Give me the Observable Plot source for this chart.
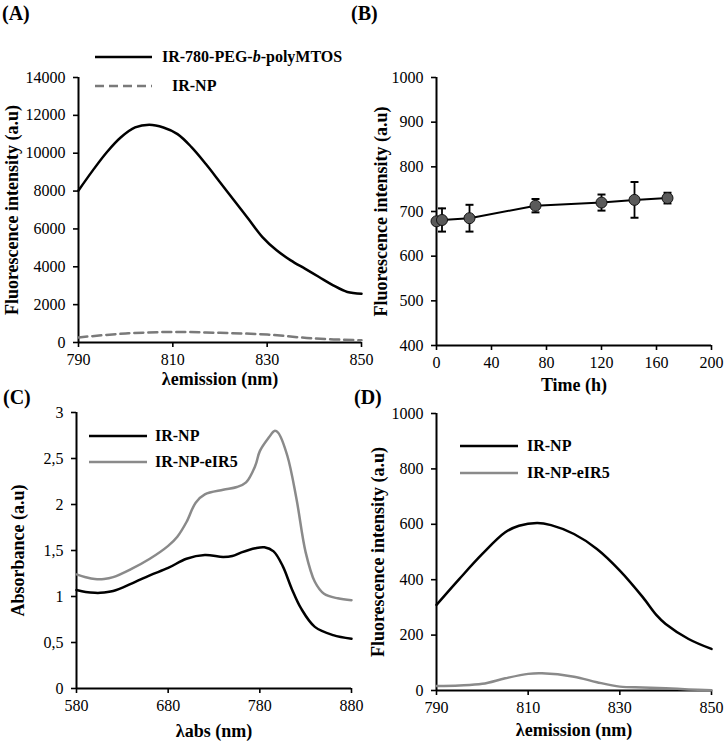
<!DOCTYPE html>
<html><head><meta charset="utf-8">
<script src="https://cdn.jsdelivr.net/npm/d3@7"></script>
<script src="https://cdn.jsdelivr.net/npm/@observablehq/plot@0.6"></script>
<style>
body{margin:0;background:#fff;}
#wrap{position:relative;width:726px;height:750px;font-family:"Liberation Serif",serif;color:#000;overflow:hidden;}
.panel{position:absolute;}
.lab{position:absolute;font-weight:bold;font-size:20px;line-height:20px;white-space:nowrap;}
.legtxt{position:absolute;font-weight:bold;font-size:16px;line-height:20px;white-space:nowrap;}
.legsw{position:absolute;overflow:visible;}
</style></head><body><div id="wrap"></div>
<script>
// ---------- Panel A: emission spectra ----------
const aWl = [790,793,796,799,802,805,808,811,814,817,820,823,826,829,832,835,838,841,844,847,850];
const aPolymer = [8030,9080,10050,10840,11360,11500,11360,11010,10310,9430,8470,7500,6540,5570,4870,4340,3900,3460,3020,2670,2580];
const aNpWl = [790,800,810,820,830,840,850];
const aNp = [270,475,560,510,420,210,120];
const aXTicks = [790,810,830,850];
const aYTicks = [0,2000,4000,6000,8000,10000,12000,14000];
const aSeries = ["IR-780-PEG-b-polyMTOS","IR-NP"];

// ---------- Panel B: stability over time ----------
const bTime = [0,4,24,72,120,144,168];
const bMean = [678,681,685,713,720,726,730];
const bErr = [6,26,30,15,18,40,12];
const bXTicks = [0,40,80,120,160,200];
const bYTicks = [400,500,600,700,800,900,1000];

// ---------- Panel C: absorbance spectra ----------
const cWl = [580,590,600,606,620,640,660,680,700,720,740,750,760,775,785,795,805,815,825,840,860,880];
const cNp = [1.07,1.05,1.04,1.04,1.06,1.14,1.23,1.31,1.41,1.45,1.43,1.44,1.48,1.525,1.535,1.49,1.33,1.08,0.87,0.67,0.58,0.54];
const cWl2 = [580,590,600,610,620,640,660,680,690,700,710,720,740,755,765,775,780,790,796,800,810,820,830,840,850,865,880];
const cNpE = [1.24,1.21,1.19,1.19,1.21,1.30,1.41,1.55,1.65,1.81,2.02,2.11,2.16,2.19,2.24,2.42,2.58,2.73,2.80,2.78,2.53,2.06,1.48,1.16,1.03,0.98,0.96];
const cXTicks = [580,680,780,880];
const cYTicks = [0,0.5,1,1.5,2,2.5,3];
const cSeries = ["IR-NP","IR-NP-eIR5"];

// ---------- Panel D: emission spectra ----------
const dWl = [790,795,800,805,808,812,815,820,825,830,835,838,840,845,850];
const dNp = [309,403,493,571,595,605,597,565,511,433,337,272,240,186,150];
const dWl2 = [790,795,800,805,810,813,820,825,830,835,840,845,850];
const dNpE = [16,18,24,44,60,62,50,30,14,11,8,4,1];
const dXTicks = [790,810,830,850];
const dYTicks = [0,200,400,600,800,1000];
const dSeries = ["IR-NP","IR-NP-eIR5"];

const FONT = "Liberation Serif";
const GRAY = "#8a8a8a";
const DASHGRAY = "#7a7a7a";
const wrap = document.getElementById("wrap");

const baseStyle = {background: "transparent", fontFamily: FONT, fontSize: "16px", color: "#000", overflow: "visible"};
const fmtInt = d3.format("d");
const fmtComma = d => String(d).replace(".", ",");

function axes(xTicks, yTicks, xDom, yDom, fmtY, fmtX) {
  return [
    Plot.axisX({ticks: xTicks, tickSize: 5, tickPadding: 6, tickFormat: fmtX || fmtInt, label: null, strokeWidth: 1.6}),
    Plot.axisY({ticks: yTicks, tickSize: 5, tickPadding: 8, tickFormat: fmtY || fmtInt, label: null, strokeWidth: 1.6}),
    Plot.ruleY([yDom[0]], {strokeWidth: 2}),
    Plot.ruleX([xDom[0]], {strokeWidth: 2})
  ];
}
function titles(xt, yt, dyX, dxY) {
  return [
    Plot.text([xt], {text: d => d, frameAnchor: "bottom", dy: dyX, textAnchor: "middle", fontWeight: "bold", fontSize: 18}),
    Plot.text([yt], {text: d => d, frameAnchor: "left", dx: dxY, rotate: -90, textAnchor: "middle", fontWeight: "bold", fontSize: 18})
  ];
}
function place(svg, left, top) {
  const d = document.createElement("div");
  d.className = "panel"; d.style.left = left + "px"; d.style.top = top + "px";
  d.appendChild(svg); wrap.appendChild(d);
}
function label(txt, left, top) {
  const d = document.createElement("div");
  d.className = "lab"; d.textContent = txt; d.style.left = left + "px"; d.style.top = top + "px";
  wrap.appendChild(d);
}
function legend(x1, x2, y, tx, html, color, dash, w) {
  const ns = "http://www.w3.org/2000/svg";
  const s = document.createElementNS(ns, "svg");
  s.setAttribute("class", "legsw");
  s.setAttribute("width", x2 - x1); s.setAttribute("height", 6);
  s.style.left = x1 + "px"; s.style.top = (y - 3) + "px";
  const l = document.createElementNS(ns, "line");
  l.setAttribute("x1", 0); l.setAttribute("x2", x2 - x1); l.setAttribute("y1", 3); l.setAttribute("y2", 3);
  l.setAttribute("stroke", color); l.setAttribute("stroke-width", w || 2.5);
  if (dash) l.setAttribute("stroke-dasharray", dash);
  s.appendChild(l); wrap.appendChild(s);
  const t = document.createElement("div");
  t.className = "legtxt"; t.innerHTML = html; t.style.left = tx + "px"; t.style.top = (y - 10) + "px";
  wrap.appendChild(t);
}

// Panel A
const aDomX = [790, 850], aDomY = [0, 14000];
place(Plot.plot({
  width: 380, height: 400, marginLeft: 78, marginRight: 19, marginTop: 77, marginBottom: 58,
  style: baseStyle,
  x: {domain: aDomX}, y: {domain: aDomY},
  marks: [
    ...axes(aXTicks, aYTicks, aDomX, aDomY),
    Plot.line(aWl.map((w, i) => ({w, v: aPolymer[i]})), {x: "w", y: "v", stroke: "#000", strokeWidth: 2.5, curve: "catmull-rom"}),
    Plot.line(aNpWl.map((w, i) => ({w, v: aNp[i]})), {x: "w", y: "v", stroke: DASHGRAY, strokeWidth: 2.5, strokeDasharray: "9,5", curve: "catmull-rom"}),
    ...titles("λemission (nm)", "Fluorescence intensity (a.u)", 42, -66)
  ]
}), 0, 0);

// Panel B
const bDomX = [0, 200], bDomY = [400, 1000];
const bData = bTime.map((t, i) => ({t, m: bMean[i], lo: bMean[i] - bErr[i], hi: bMean[i] + bErr[i]}));
const capSymbol = {draw(ctx, size) { const w = Math.sqrt(size) / 2; ctx.moveTo(-w, 0); ctx.lineTo(w, 0); }};
place(Plot.plot({
  width: 363, height: 400, marginLeft: 73, marginRight: 15, marginTop: 77, marginBottom: 55,
  style: baseStyle,
  x: {domain: bDomX}, y: {domain: bDomY},
  marks: [
    ...axes(bXTicks, bYTicks, bDomX, bDomY),
    Plot.ruleX(bData, {x: "t", y1: "lo", y2: "hi", stroke: "#000", strokeWidth: 1.8}),
    Plot.dot(bData, {x: "t", y: "lo", symbol: capSymbol, r: 4.5, stroke: "#000", strokeWidth: 2, fill: "none"}),
    Plot.dot(bData, {x: "t", y: "hi", symbol: capSymbol, r: 4.5, stroke: "#000", strokeWidth: 2, fill: "none"}),
    Plot.line(bData, {x: "t", y: "m", stroke: "#000", strokeWidth: 2}),
    Plot.dot(bData, {x: "t", y: "m", r: 5.5, fill: "#5a5a5a", stroke: "#111", strokeWidth: 1}),
    ...titles("Time (h)", "Fluorescence intensity (a.u)", 45, -55)
  ]
}), 363, 0);

// Panel C
const cDomX = [580, 880], cDomY = [0, 3];
place(Plot.plot({
  width: 363, height: 375, marginLeft: 76, marginRight: 12, marginTop: 37, marginBottom: 62,
  style: baseStyle,
  x: {domain: cDomX}, y: {domain: cDomY},
  marks: [
    ...axes(cXTicks, cYTicks, cDomX, cDomY, fmtComma),
    Plot.line(cWl2.map((w, i) => ({w, v: cNpE[i]})), {x: "w", y: "v", stroke: GRAY, strokeWidth: 2.5, curve: "catmull-rom"}),
    Plot.line(cWl.map((w, i) => ({w, v: cNp[i]})), {x: "w", y: "v", stroke: "#000", strokeWidth: 2.5, curve: "catmull-rom"}),
    ...titles("λabs (nm)", "Absorbance (a.u)", 48, -58)
  ]
}), 0, 375);

// Panel D
const dDomX = [790, 850], dDomY = [0, 1000];
place(Plot.plot({
  width: 363, height: 375, marginLeft: 73, marginRight: 15, marginTop: 38, marginBottom: 60,
  style: baseStyle,
  x: {domain: dDomX}, y: {domain: dDomY},
  marks: [
    ...axes(dXTicks, dYTicks, dDomX, dDomY),
    Plot.line(dWl2.map((w, i) => ({w, v: dNpE[i]})), {x: "w", y: "v", stroke: GRAY, strokeWidth: 2.5, curve: "catmull-rom"}),
    Plot.line(dWl.map((w, i) => ({w, v: dNp[i]})), {x: "w", y: "v", stroke: "#000", strokeWidth: 2.5, curve: "catmull-rom"}),
    ...titles("λemission (nm)", "Fluorescence intensity (a.u)", 45, -58)
  ]
}), 363, 375);

// Panel labels
label("(A)", 2, 3);
label("(B)", 351, 3);
label("(C)", 3, 387);
label("(D)", 354, 387);

// Legends
legend(95, 152, 57, 162, "IR-780-PEG-<i>b</i>-polyMTOS", "#000");
legend(95, 152, 86, 172, aSeries[1], DASHGRAY, "9,5");
legend(89, 147, 436, 155, cSeries[0], "#000");
legend(89, 147, 462, 155, cSeries[1], GRAY);
legend(460, 518, 446, 527, dSeries[0], "#000");
legend(460, 518, 473, 527, dSeries[1], GRAY);
</script></body></html>
